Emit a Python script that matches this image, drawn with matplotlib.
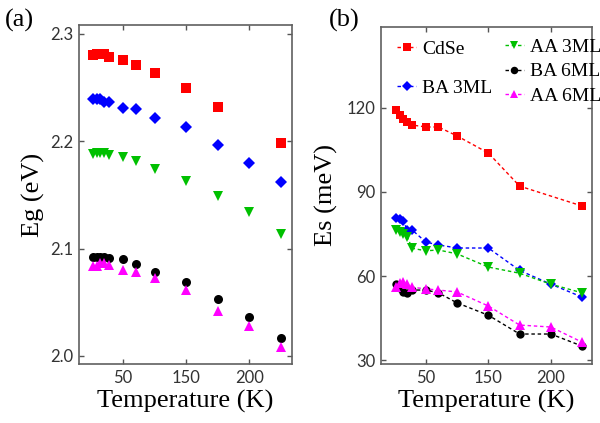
import numpy as np
import matplotlib
matplotlib.use("Agg")
import matplotlib.pyplot as plt
from matplotlib import font_manager as fm

# temperatures (K) as placed on the axis
temps = [76, 79, 82, 85, 89, 100, 110, 125, 150, 175, 200, 225]
temps_cdse = [76, 79, 82, 85, 89, 100, 110, 125, 150, 175, 225]

# x tick labels as printed in the figure
xtick_pos = [100, 150, 200]
xtick_labels = ["50", "150", "200"]

# (a) band gap, eV
eg_cdse = [2.280, 2.281, 2.281, 2.281, 2.279, 2.276, 2.271, 2.264, 2.250, 2.232, 2.198]
eg_ba3 = [2.239, 2.239, 2.239, 2.237, 2.237, 2.231, 2.230, 2.222, 2.213, 2.197, 2.180, 2.162]
eg_aa3 = [2.188, 2.189, 2.189, 2.189, 2.187, 2.185, 2.182, 2.174, 2.163, 2.149, 2.134, 2.114]
eg_ba6 = [2.092, 2.092, 2.092, 2.092, 2.091, 2.090, 2.086, 2.078, 2.069, 2.053, 2.036, 2.017]
eg_aa6 = [2.084, 2.084, 2.087, 2.087, 2.085, 2.080, 2.078, 2.073, 2.061, 2.042, 2.028, 2.008]

# (b) Es, meV
es_cdse = [119.3, 117.5, 116.1, 115.0, 113.9, 113.2, 113.2, 110.0, 103.9, 92.1, 85.0]
es_ba3 = [80.7, 80.2, 79.5, 76.4, 76.4, 72.1, 71.1, 70.0, 70.0, 62.0, 57.1, 52.5]
es_aa3 = [76.4, 75.8, 75.0, 74.0, 69.9, 69.0, 69.3, 67.9, 63.2, 61.0, 57.1, 54.0]
es_ba6 = [57.1, 55.7, 54.3, 54.0, 55.0, 55.0, 54.0, 50.4, 46.0, 39.3, 39.3, 35.0]
es_aa6 = [56.0, 57.5, 57.9, 57.0, 56.0, 55.4, 55.0, 54.3, 49.3, 42.5, 41.8, 36.4]

names = ["CdSe", "BA 3ML", "AA 3ML", "BA 6ML", "AA 6ML"]
colors = ["#ff0000", "#0000ff", "#00c000", "#000000", "#ff00ff"]
markers = ["s", "D", "v", "o", "^"]
msizes = [6.5, 6, 7, 6.5, 7]

# pin the serif font to its file so nothing falls back to a sans face
serif_path = fm.findfont(fm.FontProperties(family="Liberation Serif"))
big = fm.FontProperties(fname=serif_path, size=19)
leg_font = fm.FontProperties(fname=serif_path, size=14)
tickfont = "Lato"

fig = plt.figure(figsize=(6, 4.23), dpi=100)
ax1 = fig.add_axes([0.1317, 0.1395, 0.355, 0.8015])
ax2 = fig.add_axes([0.635, 0.1395, 0.3517, 0.7967])

eg_sets = [eg_cdse, eg_ba3, eg_aa3, eg_ba6, eg_aa6]
es_sets = [es_cdse, es_ba3, es_aa3, es_ba6, es_aa6]

for i in range(5):
    t = temps_cdse if i == 0 else temps
    ax1.plot(t, eg_sets[i], linestyle="none", marker=markers[i], color=colors[i],
             markersize=msizes[i], markeredgewidth=0)
    ax2.plot(t, es_sets[i], linestyle=(0, (2.5, 2)), linewidth=1, marker=markers[i],
             color=colors[i], markersize=msizes[i] - 0.5, markeredgewidth=0, label=names[i])

ax1.set_xlim(65, 234)
ax1.set_ylim(1.9925, 2.3084)
ax1.set_yticks([2.0, 2.1, 2.2, 2.3])
ax1.set_yticklabels(["2.0", "2.1", "2.2", "2.3"])
ax2.set_xlim(64, 233)
ax2.set_ylim(28.6, 148.9)
ax2.set_yticks([30, 60, 90, 120])
ax2.set_yticklabels(["30", "60", "90", "120"])

for ax in (ax1, ax2):
    ax.set_xticks(xtick_pos)
    ax.set_xticklabels(xtick_labels)
    ax.tick_params(direction="in", length=3.5, width=1, color="#555555",
                   top=True, right=True, pad=4, labelsize=12,
                   labelcolor="#333333", labelfontfamily=tickfont)
    for s in ax.spines.values():
        s.set_color("#606060")
        s.set_linewidth(1.2)
    ax.set_xlabel("Temperature (K)", fontproperties=big, labelpad=3)

ax1.set_ylabel("Eg (eV)", fontproperties=big, labelpad=4)
ax2.set_ylabel("Es (meV)", fontproperties=big, labelpad=6)

fig.text(0.008, 0.952, "(a)", fontproperties=big, va="center")
fig.text(0.548, 0.952, "(b)", fontproperties=big, va="center")

# legend: two groups like the original
h = ax2.get_legend_handles_labels()[0]
leg1 = ax2.legend(h[0:2], names[0:2], loc="upper left", bbox_to_anchor=(0.03, 0.99),
                  frameon=False, borderpad=0, labelspacing=1.1, handlelength=1.0,
                  handletextpad=0.3, prop=leg_font, markerscale=0.9)
ax2.add_artist(leg1)
ax2.legend(h[2:5], names[2:5], loc="upper left", bbox_to_anchor=(0.54, 0.995),
           frameon=False, borderpad=0, labelspacing=0.35, handlelength=1.0,
           handletextpad=0.3, prop=leg_font, markerscale=0.9)

fig.savefig("out.png", dpi=100)
